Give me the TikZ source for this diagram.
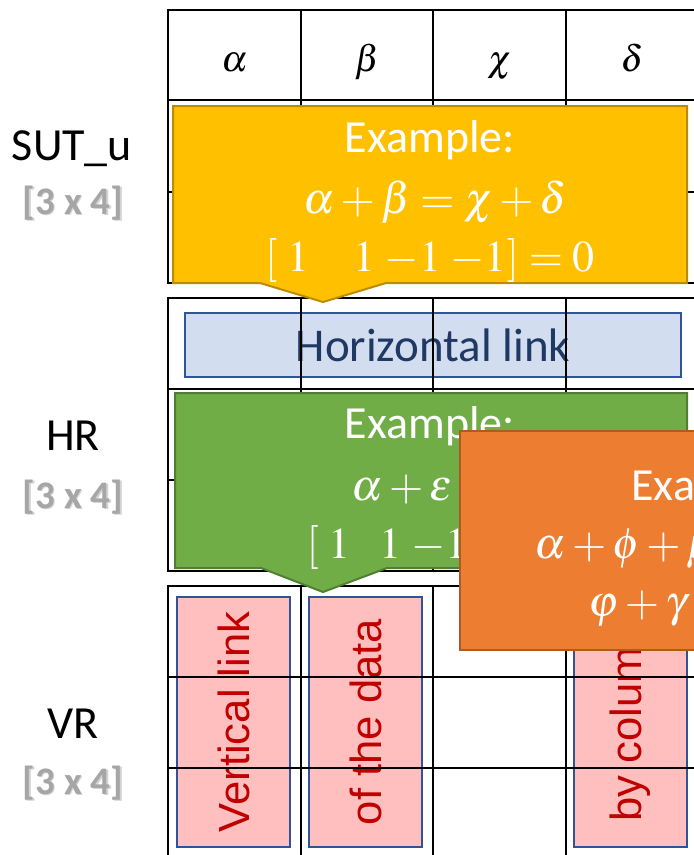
\documentclass[tikz,border=0pt]{standalone}
\usepackage{mathptmx}
\usepackage[no-math]{fontspec}
\usepackage{xcolor}
\newfontfamily\calibri{Carlito}
\newfontfamily\arial{Liberation Sans}
\definecolor{goldfill}{HTML}{FFC000}
\definecolor{golddraw}{HTML}{BC8C00}
\definecolor{greenfill}{HTML}{70AD47}
\definecolor{greendraw}{HTML}{507E32}
\definecolor{orangefill}{HTML}{ED7D31}
\definecolor{orangedraw}{HTML}{AE5A21}
\definecolor{hfill}{HTML}{D2DEEF}
\definecolor{pinkfill}{HTML}{FFBFBF}
\definecolor{linkblue}{HTML}{2F5597}
\definecolor{navytext}{HTML}{1F3864}
\definecolor{redtext}{HTML}{C00000}
\definecolor{dimgray}{HTML}{A6A6A6}
\definecolor{shadowgray}{HTML}{D4D4D4}

\begin{document}
\begin{tikzpicture}[x=1pt,y=-1pt]
\tikzstyle{tabline}=[line width=2pt,black]
\tikzstyle{rowlbl}=[font=\calibri\fontsize{46}{50}\selectfont]
\tikzstyle{dimlbl}=[font=\calibri\bfseries\fontsize{39}{44}\selectfont,text=dimgray]
\tikzstyle{hdr}=[anchor=base,font=\fontsize{37}{40}\selectfont]
\tikzstyle{hlinkbox}=[draw=linkblue,fill=hfill,line width=2pt,minimum width=496,minimum height=64,text=navytext,font=\calibri\fontsize{47}{50}\selectfont]
\tikzstyle{vlinkbox}=[draw=linkblue,fill=pinkfill,line width=2pt,rotate=90,minimum width=250,minimum height=113,inner sep=0pt,text=redtext,font=\arial\fontsize{43.6}{48}\selectfont]
\tikzstyle{callout}=[line width=2pt]
\tikzstyle{exlbl}=[anchor=base,text=white,font=\calibri\fontsize{46}{50}\selectfont]
\tikzstyle{eqlbl}=[anchor=base,text=white,font=\fontsize{44}{48}\selectfont]
\useasboundingbox (0,0) rectangle (694,855);
\clip (0,0) rectangle (694,855);
% row labels
    \node[rowlbl] (sut) at (72,149) {SUT\_u};
    \node[dimlbl,text=shadowgray] (suts) at (74.5,204.5) {[3 x 4]};
    \node[dimlbl] (sutd) at (73,203) {[3 x 4]};
    \node[rowlbl] (hr) at (73,436) {HR};
    \node[dimlbl,text=shadowgray] (hrs) at (74.5,498.5) {[3 x 4]};
    \node[dimlbl] (hrd) at (73,497) {[3 x 4]};
    \node[rowlbl] (vr) at (73,724) {VR};
    \node[dimlbl,text=shadowgray] (vrs) at (74.5,784.5) {[3 x 4]};
    \node[dimlbl] (vrd) at (73,783) {[3 x 4]};
% column heads
    \node[hdr] (ha) at (234.5,71) {$\alpha$};
    \node[hdr] (hb) at (367,71) {$\beta$};
    \node[hdr] (hc) at (499.5,71) {$\chi$};
    \node[hdr] (hd) at (632,71) {$\delta$};
% link boxes
    \node[hlinkbox] (hlink) at (433,345) {Horizontal link};
    \node[vlinkbox] (vlink1) at (233.5,722) {Vertical link};
    \node[vlinkbox] (vlink2) at (365.5,722) {of the data};
    \node[vlinkbox] (vlink4) at (630,722) {by column};
% tables
    \foreach \y in {10,100,192,283,298,389,480,571,586,677,768}
        \draw[tabline] (167,\y) -- (700,\y);
    \foreach \x in {168,301,433,566} {
        \draw[tabline] (\x,10) -- (\x,283);
        \draw[tabline] (\x,298) -- (\x,571);
        \draw[tabline] (\x,586) -- (\x,860);
    }
% yellow example
    \draw[callout,draw=golddraw,fill=goldfill] (173,106) -- (687,106) -- (687,283) -- (386,283)
        -- (323,302) -- (260,283) -- (173,283) -- cycle;
    \node[exlbl] (ex1) at (430,152) {Example:};
    \node[eqlbl] (eq1) at (435,213) {$\alpha+\beta=\chi+\delta$};
    \node[eqlbl] (vec1) at (430,271) {$[\;1\quad 1\;{-1}\;{-1}]=0$};
% green example
    \draw[callout,draw=greendraw,fill=greenfill] (175,393) -- (687,393) -- (687,568) -- (387,568)
        -- (323,592) -- (261,568) -- (175,568) -- cycle;
    \node[exlbl] (ex2) at (430,438) {Example:};
    \node[eqlbl,anchor=base west] (eq2) at (348,500) {$\alpha+\varepsilon=\gamma$};
    \node[eqlbl,anchor=base west] (vec2) at (303,558) {$[\;1\;\;\;1\;{-1}\;{-1}]$};
% orange example
    \draw[callout,draw=orangedraw,fill=orangefill] (460,431) rectangle (990,650);
    \node[exlbl,anchor=base west] (ex3) at (628,500) {Example:};
    \node[eqlbl,anchor=base west] (eq3) at (531,558) {$\alpha+\phi+\mu$};
    \node[eqlbl,anchor=base west] (eq4) at (585,616) {$\varphi+\gamma$};
\end{tikzpicture}
\end{document}
